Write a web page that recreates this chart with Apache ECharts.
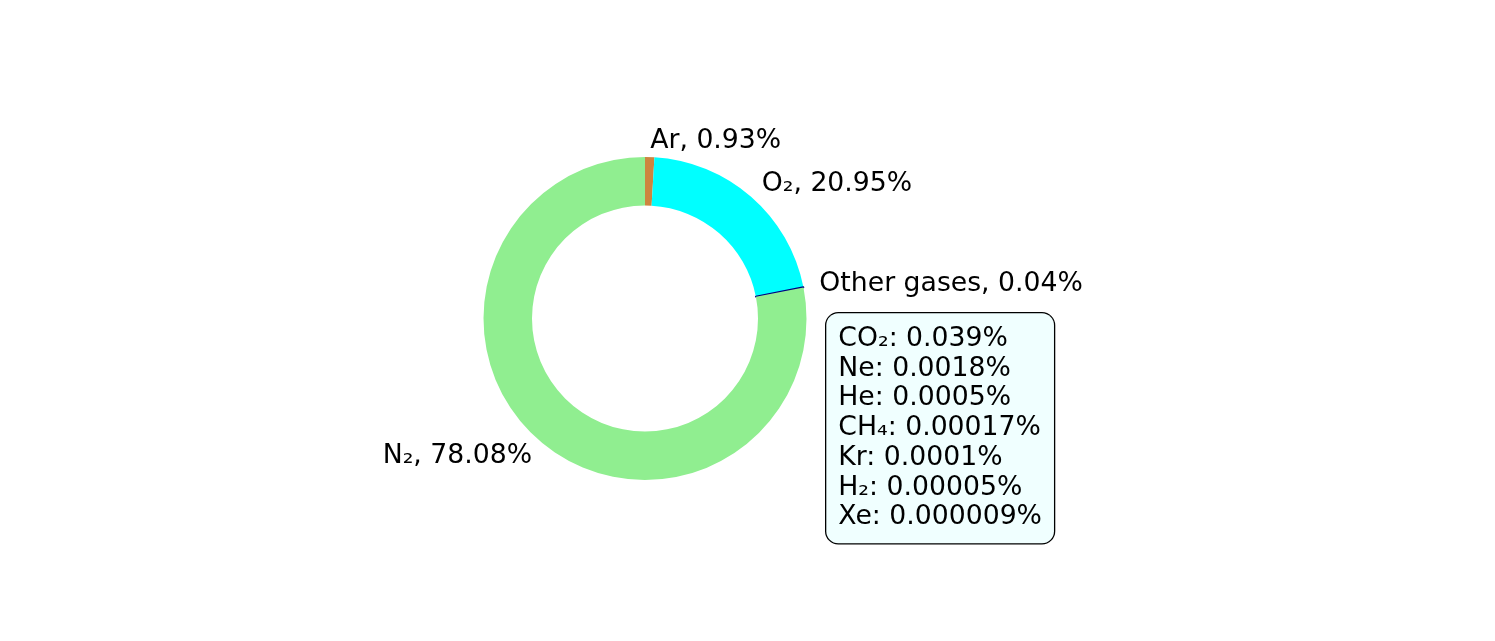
<!DOCTYPE html>
<html>
<head>
<meta charset="utf-8">
<script src="https://cdn.jsdelivr.net/npm/echarts@6/dist/echarts.min.js"></script>
<style>
  html, body { margin: 0; padding: 0; background: #fff; }
  #chart { width: 1495px; height: 641px; }
</style>
</head>
<body>
<div id="chart"></div>
<script>
// slices, clockwise from the top
const gasNames = ['Ar', 'O₂', 'Other gases', 'N₂'];
const gasValues = [0.93, 20.95, 0.04, 78.08];
const gasColors = ['#cd853f', '#00ffff', '#000080', '#90ee90'];

// breakdown of "Other gases"
const traceNames = ['CO₂', 'Ne', 'He', 'CH₄', 'Kr', 'H₂', 'Xe'];
const traceValues = ['0.039', '0.0018', '0.0005', '0.00017', '0.0001', '0.00005', '0.000009'];

const font = 'DejaVu Sans';
const fontSize = 26.7;

const chart = echarts.init(document.getElementById('chart'), null, {renderer: 'canvas'});

const data = gasNames.map((n, i) => ({
  name: n,
  value: gasValues[i],
  itemStyle: n === 'Other gases'
    ? {color: gasColors[i], borderColor: gasColors[i], borderWidth: 1.6}
    : {color: gasColors[i]}
}));

const boxText = traceNames.map((n, i) => n + ': ' + traceValues[i] + '%').join('\n');

chart.setOption({
  backgroundColor: '#fff',
  animation: false,
  series: [{
    type: 'pie',
    center: [645, 318.5],
    radius: [113, 161.5],
    startAngle: 90,
    clockwise: true,
    avoidLabelOverlap: false,
    minAngle: 0,
    data: data,
    label: {
      show: true,
      position: 'outside',
      formatter: p => p.name + ', ' + p.value.toFixed(2) + '%',
      fontFamily: font,
      fontSize: fontSize,
      color: '#000',
      distanceToLabelLine: 0
    },
    labelLine: {show: false, length: 16.2, length2: 0},
    emphasis: {disabled: true}
  }],
  graphic: [{
    type: 'text',
    left: 825,
    top: 312,
    style: {
      text: boxText,
      font: fontSize + 'px "' + font + '"',
      fill: '#000',
      lineHeight: 29.7,
      backgroundColor: '#f0ffff',
      borderColor: '#000',
      borderWidth: 1.3,
      borderRadius: 12,
      padding: [11, 12, 11, 12]
    }
  }]
});
</script>
</body>
</html>
